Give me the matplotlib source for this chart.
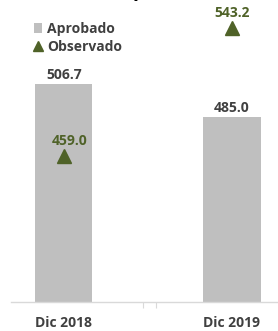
import matplotlib
matplotlib.use("Agg")
import matplotlib.pyplot as plt

categories = ["Dic 2018", "Dic 2019"]
aprobado = [506.7, 485.0]
observado = [459.0, 543.2]

plt.rcParams['font.family'] = ['Open Sans', 'DejaVu Sans']
plt.rcParams['font.weight'] = 'bold'

fig = plt.figure(figsize=(2.78, 3.31), dpi=100)
W, H = 278, 331
ax = fig.add_axes([11 / W, (H - 302) / H, (278 - 11) / W, 302 / H])

x = list(range(len(categories)))
bar_color = "#bfbfbf"
green = "#4f6228"
ax.bar(x, aprobado, width=0.34, color=bar_color, zorder=2, label="Aprobado")
ax.plot(x, observado, linestyle="none", marker="^", markersize=9.5, color=green,
        zorder=3, label="Observado")

ax.set_ylim(363, 561.7)
ax.set_xlim(-0.315, 1.274)

for xi, v in zip(x, aprobado):
    ax.annotate(f"{v:.1f}", (xi, v), xytext=(0, 1), textcoords="offset points",
                ha="center", va="bottom", fontsize=10, fontweight="bold", color="#404040")
for xi, v in zip(x, observado):
    ax.annotate(f"{v:.1f}", (xi, v), xytext=(4 if xi == 0 else 0, 6), textcoords="offset points",
                ha="center", va="bottom", fontsize=10, fontweight="bold", color=green)

for s in ["top", "right", "left"]:
    ax.spines[s].set_visible(False)
ax.spines["bottom"].set_color("#d9d9d9")
ax.spines["bottom"].set_linewidth(1.0)
ax.set_yticks([])
ax.set_xticks(x)
ax.set_xticklabels(categories, fontsize=10, fontweight="bold", color="#404040")
ax.tick_params(axis="x", length=0, pad=10)
ax.set_xticks([0.47, 0.548], minor=True)
ax.tick_params(axis="x", which="minor", length=4, color="#d9d9d9", width=0.8)

h, l = ax.get_legend_handles_labels()
order = [l.index("Aprobado"), l.index("Observado")]
leg = ax.legend([h[i] for i in order], [l[i] for i in order],
                loc="upper left", bbox_to_anchor=(0.065, 0.945), frameon=False,
                prop={"size": 10, "weight": "bold"}, handlelength=0.6, handletextpad=0.35,
                labelspacing=0.3, borderaxespad=0, markerscale=0.72)
for t in leg.get_texts():
    t.set_color("#404040")

fig.text(0.5, 1.0 + 4 / H, "p", ha="center", va="baseline", fontsize=14,
         fontweight="bold", color="black")

fig.savefig("out.png", dpi=100)
